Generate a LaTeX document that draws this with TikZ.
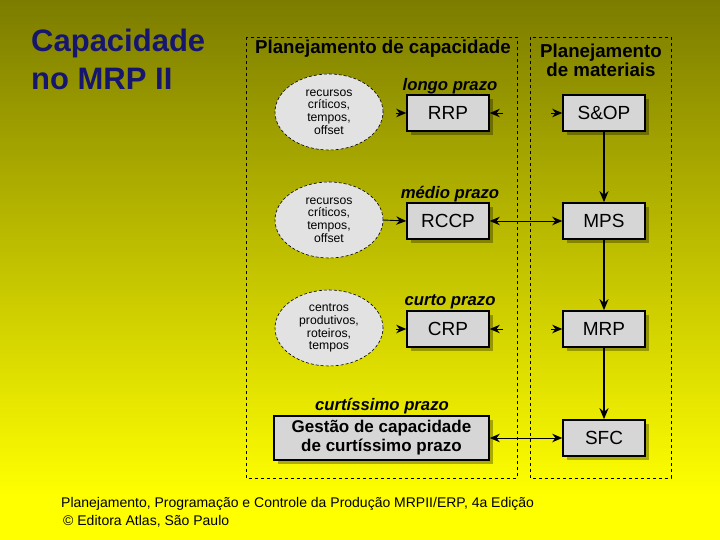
\documentclass[tikz,border=0pt]{standalone}
\usepackage{fontspec}
\setmainfont{Liberation Sans}
\usetikzlibrary{arrows.meta,shapes.geometric,shadows}
\definecolor{olivetop}{RGB}{124,124,0}
\definecolor{yellowbot}{RGB}{255,255,0}
\definecolor{titleblue}{RGB}{22,22,110}
\definecolor{boxgray}{RGB}{214,214,214}
\definecolor{ellgray}{RGB}{226,226,226}
\tikzset{
  procbox/.style={draw=black, line width=1.6pt, fill=boxgray, minimum width=82pt, minimum height=36pt, inner sep=0pt,
    font=\fontsize{19}{22}\selectfont,
    drop shadow={shadow xshift=4pt, shadow yshift=-4pt, fill=black, opacity=0.3}},
  resell/.style={ellipse, draw=black, dashed, dash pattern=on 3pt off 2pt, line width=0.6pt, fill=ellgray, minimum width=108pt, minimum height=76pt, inner sep=0pt, align=center,
    font=\fontsize{12.2}{12.7}\selectfont},
  term/.style={font=\bfseries\itshape\fontsize{16.7}{19}\selectfont},
  head/.style={font=\bfseries\fontsize{18.7}{20}\selectfont, align=center},
  frame/.style={draw=black, dashed, dash pattern=on 3pt off 3pt, line width=0.7pt},
  tip/.style={-{Stealth[length=10pt,width=8.5pt]}, line width=0.9pt},
  dtip/.style={{Stealth[length=10pt,width=8.5pt]}-{Stealth[length=10pt,width=8.5pt]}, line width=0.9pt},
  vtip/.style={-{Stealth[length=11pt,width=9pt]}, line width=1.8pt},
}
\begin{document}
\begin{tikzpicture}[x=1pt,y=-1pt]
\useasboundingbox (0,0) rectangle (720,540);
\shade[top color=olivetop, bottom color=yellowbot] (0,0) rectangle (720,495);
\fill[yellowbot] (0,494.5) rectangle (720,540);

% title
\node[anchor=north west, text=titleblue, font=\bfseries\fontsize{31}{38}\selectfont, align=left, inner sep=0pt] (title) at (31,29) {Capacidade\\no MRP II};

% frames
\draw[frame] (246,37) rectangle (517,478);
\draw[frame] (530,37) rectangle (671,478);

\node[head] (hcap) at (383,49) {Planejamento de capacidade};
\node[head] (hmat) at (601,60) {Planejamento\\[-1pt]de materiais};

% ellipses
\node[resell] (e1) at (329,112) {recursos\\críticos,\\tempos,\\offset};
\node[resell] (e2) at (329,220) {recursos\\críticos,\\tempos,\\offset};
\node[resell] (e3) at (329,328) {centros\\produtivos,\\roteiros,\\tempos};

% term labels
\node[term] (t1) at (450,86) {longo prazo};
\node[term] (t2) at (450,194) {médio prazo};
\node[term] (t3) at (450,302) {curto prazo};
\node[term] (t4) at (382,406) {curtíssimo prazo};

% boxes
\node[procbox] (rrp) at (448,113) {RRP};
\node[procbox] (rccp) at (448,221) {RCCP};
\node[procbox] (crp) at (448,329) {CRP};
\node[procbox, minimum width=215pt, minimum height=44pt, align=center, font=\bfseries\fontsize{17}{19}\selectfont] (gest) at (381.5,438) {Gestão de capacidade\\de curtíssimo prazo};

\node[procbox] (sop) at (604,113) {S\&OP};
\node[procbox] (mps) at (604,221) {MPS};
\node[procbox] (mrp) at (604,329) {MRP};
\node[procbox] (sfc) at (604,438) {SFC};

% stub coordinates
\coordinate (rrpL) at (396,113);
\coordinate (rrpR) at (503,113);
\coordinate (sopL) at (551,113);
\coordinate (crpL) at (396,329);
\coordinate (crpR) at (503,329);
\coordinate (mrpL) at (551,329);

\draw[tip] (rrpL) -- (rrp.west);
\draw[tip] (rrpR) -- (rrp.east);
\draw[tip] (sopL) -- (sop.west);
\draw[tip] (crpL) -- (crp.west);
\draw[tip] (crpR) -- (crp.east);
\draw[tip] (mrpL) -- (mrp.west);

\draw[tip] (e2.east) -- (rccp.west);
\draw[dtip] (rccp.east) -- (mps.west);
\draw[dtip] (gest.east) -- (sfc.west);

\draw[vtip] (sop.south) -- (mps.north);
\draw[vtip] (mps.south) -- (mrp.north);
\draw[vtip] (mrp.south) -- (sfc.north);

% footer
\node[anchor=west, font=\fontsize{14}{16}\selectfont, inner sep=0pt] (f1) at (61,504) {Planejamento, Programação e Controle da Produção MRPII/ERP, 4a Edição};
\node[anchor=west, font=\fontsize{14}{16}\selectfont, inner sep=0pt] (f2) at (63,521) {© Editora Atlas, São Paulo};
\end{tikzpicture}
\end{document}
